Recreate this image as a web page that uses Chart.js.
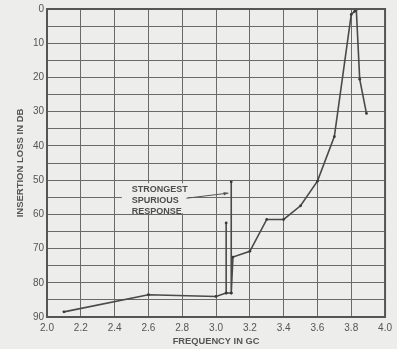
<!DOCTYPE html>
<html lang="en">
<head>
    <meta charset="UTF-8">
    <title>Insertion Loss vs Frequency</title>
    <script src="https://cdn.jsdelivr.net/npm/chart.js"></script>
    <style>
        html, body {
            margin: 0;
            padding: 0;
            background: #ededeb;
        }
        .chart-box {
            width: 397px;
            height: 349px;
        }
    </style>
</head>
<body>
    <div class="chart-box">
        <canvas id="lossChart"></canvas>
    </div>

    <script>
        // measured points, frequency in GC and insertion loss in dB
        const freqGc = [2.1, 2.6, 3.0, 3.06, 3.06, 3.06, 3.09, 3.09, 3.09, 3.1, 3.2, 3.3, 3.4, 3.5, 3.6, 3.7, 3.8, 3.82, 3.83, 3.85, 3.89];
        const lossDb = [88.5, 83.5, 84, 83, 62.5, 83, 83, 50.5, 83, 72.5, 70.8, 61.5, 61.5, 57.5, 50.3, 37.3, 1.6, 0.7, 0.2, 20.5, 30.5];

        const xTicks = [2.0, 2.2, 2.4, 2.6, 2.8, 3.0, 3.2, 3.4, 3.6, 3.8, 4.0];
        const yTicks = [0, 10, 20, 30, 40, 50, 60, 70, 80, 90];

        const noteLines = ["STRONGEST", "SPURIOUS", "RESPONSE"];
        const noteAt = { x: 2.502, y: 53.4 };
        const arrowFrom = { x: 2.825, y: 55.3 };
        const arrowTo = { x: 3.073, y: 53.8 };

        const bg = "#ededeb";
        const ink = "#555555";

        const points = freqGc.map((f, i) => ({ x: f, y: lossDb[i] }));

        // label box that hides the grid behind it, plus the pointer arrow
        const notePlugin = {
            id: "note",
            beforeDatasetsDraw(chart) {
                const ctx = chart.ctx;
                const xs = chart.scales.x;
                const ys = chart.scales.y;
                const tx = xs.getPixelForValue(noteAt.x);
                const ty = ys.getPixelForValue(noteAt.y);

                ctx.save();
                ctx.fillStyle = bg;
                ctx.fillRect(tx - 10, ty - 8.5, 66, 30);

                ctx.fillStyle = "#4e4e4e";
                ctx.font = "bold 9px 'Liberation Sans', Arial, sans-serif";
                ctx.textBaseline = "alphabetic";
                noteLines.forEach((t, i) => ctx.fillText(t, tx, ty + i * 11.3));

                const ax = xs.getPixelForValue(arrowFrom.x);
                const ay = ys.getPixelForValue(arrowFrom.y);
                const bx = xs.getPixelForValue(arrowTo.x);
                const by = ys.getPixelForValue(arrowTo.y);
                ctx.strokeStyle = ink;
                ctx.lineWidth = 1;
                ctx.beginPath();
                ctx.moveTo(ax, ay);
                ctx.lineTo(bx, by);
                ctx.stroke();

                const ang = Math.atan2(by - ay, bx - ax);
                ctx.fillStyle = ink;
                ctx.beginPath();
                ctx.moveTo(bx, by);
                ctx.lineTo(bx - 5 * Math.cos(ang - 0.35), by - 5 * Math.sin(ang - 0.35));
                ctx.lineTo(bx - 5 * Math.cos(ang + 0.35), by - 5 * Math.sin(ang + 0.35));
                ctx.closePath();
                ctx.fill();
                ctx.restore();
            }
        };

        const ctx = document.getElementById("lossChart").getContext("2d");
        const lossChart = new Chart(ctx, {
            type: "line",
            data: {
                datasets: [{
                    data: points,
                    borderColor: "#4a4a4a",
                    borderWidth: 1.6,
                    pointRadius: 1.4,
                    pointBackgroundColor: "#3a3a3a",
                    pointBorderWidth: 0,
                    tension: 0
                }]
            },
            options: {
                responsive: true,
                maintainAspectRatio: false,
                animation: false,
                layout: {
                    padding: { top: 9, right: 10, left: 0, bottom: 0 }
                },
                plugins: {
                    legend: { display: false },
                    tooltip: { enabled: false }
                },
                scales: {
                    x: {
                        type: "linear",
                        min: 2,
                        max: 4,
                        afterFit: s => { s.height = 32; },
                        afterBuildTicks: s => { s.ticks = xTicks.map(v => ({ value: v })); },
                        ticks: {
                            color: "#555",
                            padding: 5,
                            maxRotation: 0,
                            font: { family: "'Liberation Sans', Arial", size: 10 },
                            callback: v => Number(v).toFixed(1)
                        },
                        grid: { color: "#6a6a6a", lineWidth: 1, drawTicks: false },
                        border: { color: "#555", width: 2 },
                        title: {
                            display: true,
                            text: "FREQUENCY IN GC",
                            color: "#555",
                            padding: { top: 0, bottom: 2 },
                            font: { family: "'Liberation Sans', Arial", size: 9.3, weight: "bold" }
                        }
                    },
                    y: {
                        reverse: true,
                        min: 0,
                        max: 90,
                        afterFit: s => { s.width = 47; },
                        ticks: {
                            stepSize: 5,
                            color: "#555",
                            padding: 3,
                            font: { family: "'Liberation Sans', Arial", size: 10 },
                            callback: v => (yTicks.includes(v) ? v : "")
                        },
                        grid: { color: "#6a6a6a", lineWidth: 1, drawTicks: false },
                        border: { color: "#555", width: 2 },
                        title: {
                            display: true,
                            text: "INSERTION LOSS IN DB",
                            color: "#555",
                            padding: { top: 15, bottom: 0 },
                            font: { family: "'Liberation Sans', Arial", size: 9.5, weight: "bold" }
                        }
                    }
                }
            },
            plugins: [notePlugin, {
                id: "frame",
                beforeDraw(chart) {
                    const c = chart.ctx;
                    c.save();
                    c.fillStyle = bg;
                    c.fillRect(0, 0, chart.width, chart.height);
                    c.restore();
                },
                afterDraw(chart) {
                    const a = chart.chartArea;
                    const c = chart.ctx;
                    c.save();
                    c.strokeStyle = "#555";
                    c.lineWidth = 2;
                    c.strokeRect(a.left, a.top, a.right - a.left, a.bottom - a.top);
                    c.restore();
                }
            }]
        });
    </script>
</body>
</html>
